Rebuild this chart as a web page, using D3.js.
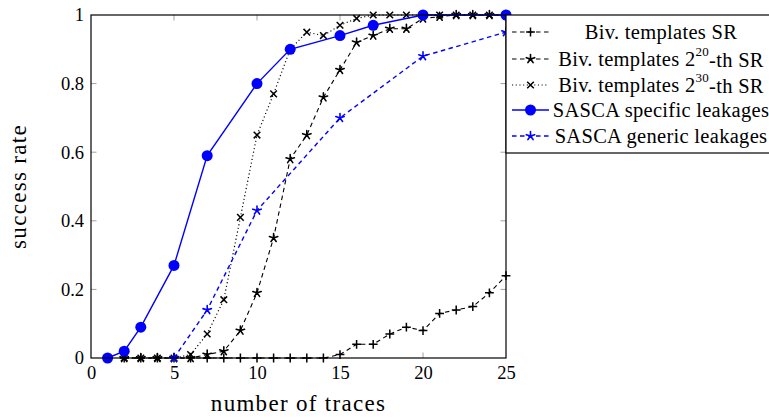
<!DOCTYPE html>
<html>
<head>
<meta charset="utf-8">
<script src="https://cdn.jsdelivr.net/npm/d3@7"></script>
<style>
  body { margin: 0; background: #fff; }
  svg { display: block; font-family: "Liberation Serif", "DejaVu Serif", serif; }
</style>
</head>
<body>
<div id="chart"></div>
<script>
// number of traces for the bivariate template curves
const tracesBiv = [2, 3, 4, 5, 6, 7, 8, 9, 10, 11, 12, 13, 14, 15, 16, 17, 18, 19, 20, 21, 22, 23, 24, 25];
const bivSR = [0, 0, 0, 0, 0, 0, 0, 0, 0, 0, 0, 0, 0, 0.01, 0.04, 0.04, 0.07, 0.09, 0.08, 0.13, 0.14, 0.15, 0.19, 0.24];
const biv20 = [0, 0, 0, 0, 0, 0.01, 0.02, 0.08, 0.19, 0.35, 0.58, 0.65, 0.76, 0.84, 0.92, 0.94, 0.96, 0.96, 0.99, 0.995, 1, 1, 1, 1];
const biv30 = [0, 0, 0, 0, 0.01, 0.07, 0.17, 0.41, 0.65, 0.77, 0.9, 0.95, 0.94, 0.97, 0.99, 1, 1, 1, 1, 1, 1, 1, 1, 1];
// SASCA curves
const tracesSpecific = [1, 2, 3, 5, 7, 10, 12, 15, 17, 20, 25];
const sascaSpecific = [0, 0.02, 0.09, 0.27, 0.59, 0.8, 0.9, 0.94, 0.97, 1, 1];
const tracesGeneric = [5, 7, 10, 15, 20, 25];
const sascaGeneric = [0, 0.14, 0.43, 0.7, 0.88, 0.95];

const xTicks = [0, 5, 10, 15, 20, 25];
const yTicks = [0, 0.2, 0.4, 0.6, 0.8, 1];
const yTickLabels = ["0", "0.2", "0.4", "0.6", "0.8", "1"];

const series = [
  { name: "Biv. templates SR", sup: null, x: tracesBiv, y: bivSR, color: "#000", dash: "4.5,3.5", mark: "plus", width: 1.1 },
  { name: "Biv. templates 2", sup: "20", tail: "-th SR", x: tracesBiv, y: biv20, color: "#000", dash: "4.5,3.5", mark: "star", width: 1.1 },
  { name: "Biv. templates 2", sup: "30", tail: "-th SR", x: tracesBiv, y: biv30, color: "#000", dash: "1.1,2.6", mark: "cross", width: 1.2 },
  { name: "SASCA specific leakages", sup: null, x: tracesSpecific, y: sascaSpecific, color: "#0000ff", dash: null, mark: "circle", width: 1.4 },
  { name: "SASCA generic leakages", sup: null, x: tracesGeneric, y: sascaGeneric, color: "#0000ff", dash: "4.5,3.5", mark: "star", width: 1.4 },
];

const W = 769, H = 418;
const margin = { top: 15, left: 91, right: W - 506, bottom: H - 358 };

const svg = d3.select("#chart").append("svg").attr("width", W).attr("height", H);

const x = d3.scaleLinear().domain([0, 25]).range([margin.left, W - margin.right]);
const y = d3.scaleLinear().domain([0, 1]).range([H - margin.bottom, margin.top]);

// gray inner ticks on all four sides
const tickLen = 5.5;
const tickG = svg.append("g").attr("stroke", "#a0a0a0").attr("stroke-width", 1);
xTicks.slice(1, -1).forEach((t) => {
  tickG.append("line").attr("x1", x(t)).attr("x2", x(t)).attr("y1", y(0)).attr("y2", y(0) - tickLen);
  tickG.append("line").attr("x1", x(t)).attr("x2", x(t)).attr("y1", y(1)).attr("y2", y(1) + tickLen);
});
yTicks.slice(1, -1).forEach((t) => {
  tickG.append("line").attr("x1", x(0)).attr("x2", x(0) + tickLen).attr("y1", y(t)).attr("y2", y(t));
  tickG.append("line").attr("x1", x(25)).attr("x2", x(25) - tickLen).attr("y1", y(t)).attr("y2", y(t));
});

// tick labels via d3 axes, lines hidden
const xAxis = svg.append("g")
  .attr("transform", `translate(0,${y(0)})`)
  .call(d3.axisBottom(x).tickValues(xTicks).tickSize(0).tickPadding(8));
const yAxis = svg.append("g")
  .attr("transform", `translate(${x(0)},0)`)
  .call(d3.axisLeft(y).tickValues(yTicks).tickSize(0).tickPadding(7).tickFormat((d, i) => yTickLabels[i]));
[xAxis, yAxis].forEach((g) => {
  g.select(".domain").remove();
  g.selectAll("text").attr("font-family", "Liberation Serif, serif").attr("font-size", 18.5).attr("fill", "#000");
});
xAxis.selectAll("text").attr("dy", "0.72em");

// markers
function drawMark(g, type, cx, cy, color) {
  const s = 4.4;
  if (type === "circle") {
    g.append("circle").attr("cx", cx).attr("cy", cy).attr("r", 5.5).attr("fill", color);
  } else if (type === "plus") {
    g.append("path").attr("d", `M${cx - s},${cy}H${cx + s}M${cx},${cy - s}V${cy + s}`)
      .attr("stroke", color).attr("stroke-width", 1.5).attr("fill", "none");
  } else if (type === "cross") {
    const c = 3.3;
    g.append("path").attr("d", `M${cx - c},${cy - c}L${cx + c},${cy + c}M${cx - c},${cy + c}L${cx + c},${cy - c}`)
      .attr("stroke", color).attr("stroke-width", 1.5).attr("fill", "none");
  } else if (type === "star") {
    let d = "";
    for (let k = 0; k < 5; k++) {
      const a = -Math.PI / 2 + (k * 2 * Math.PI) / 5;
      d += `M${cx},${cy}L${cx + s * Math.cos(a)},${cy + s * Math.sin(a)}`;
    }
    g.append("path").attr("d", d).attr("stroke", color).attr("stroke-width", 1.6)
      .attr("stroke-linecap", "round").attr("fill", "none");
  }
}

const line = d3.line().x((d) => x(d[0])).y((d) => y(d[1]));
const plotG = svg.append("g");
series.forEach((s) => {
  const pts = s.x.map((v, i) => [v, s.y[i]]);
  plotG.append("path").datum(pts).attr("d", line)
    .attr("fill", "none").attr("stroke", s.color).attr("stroke-width", s.width)
    .attr("stroke-dasharray", s.dash);
  const mg = plotG.append("g");
  pts.forEach((p) => drawMark(mg, s.mark, x(p[0]), y(p[1]), s.color));
});

// frame
svg.append("rect")
  .attr("x", x(0)).attr("y", y(1))
  .attr("width", x(25) - x(0)).attr("height", y(0) - y(1))
  .attr("fill", "none").attr("stroke", "#000").attr("stroke-width", 1.2);

// axis titles
svg.append("text").attr("x", (x(0) + x(25)) / 2).attr("y", 411).attr("text-anchor", "middle")
  .attr("font-size", 23).attr("letter-spacing", 1.3).text("number of traces");
svg.append("text").attr("transform", `translate(26,${(y(0) + y(1)) / 2}) rotate(-90)`)
  .attr("text-anchor", "middle").attr("font-size", 23).attr("letter-spacing", 1.3).text("success rate");

// legend
const legX = x(25), legY = y(1), legH = 138;
const leg = svg.append("g");
leg.append("rect").attr("x", legX).attr("y", legY).attr("width", 300).attr("height", legH)
  .attr("fill", "#fff").attr("stroke", "#000").attr("stroke-width", 1.2);
const rowY = [32, 59, 85, 110, 136];
series.forEach((s, i) => {
  const ry = rowY[i];
  leg.append("line").attr("x1", legX + 6).attr("x2", legX + 43).attr("y1", ry).attr("y2", ry)
    .attr("stroke", s.color).attr("stroke-width", s.width).attr("stroke-dasharray", s.dash);
  drawMark(leg, s.mark, legX + 24.5, ry, s.color);
  const t = leg.append("text").attr("x", 661).attr("y", ry).attr("dy", "0.35em")
    .attr("text-anchor", "middle").attr("font-size", 20.5).attr("letter-spacing", 0.3).text(s.name);
  if (s.sup) {
    t.append("tspan").attr("font-size", 13).attr("dy", "-0.75em").text(s.sup);
    t.append("tspan").attr("dy", "0.5em").text(s.tail);
  }
});
</script>
</body>
</html>
